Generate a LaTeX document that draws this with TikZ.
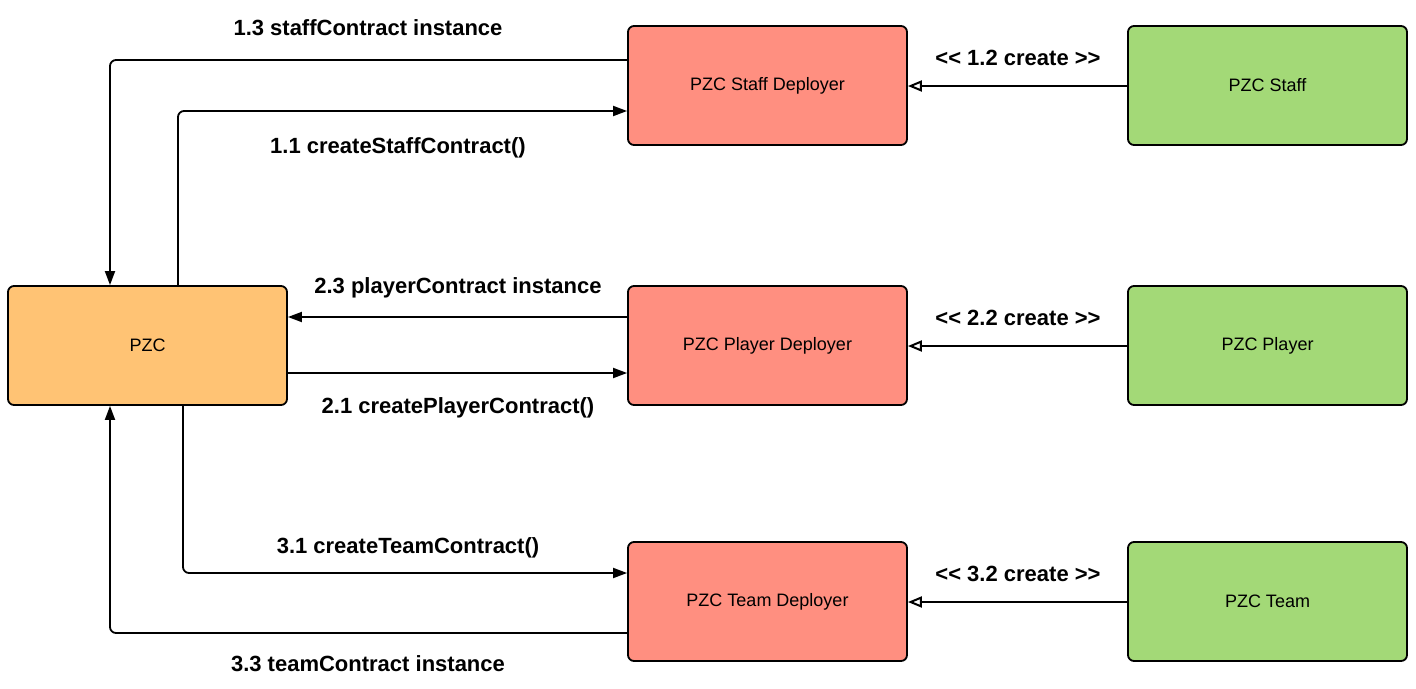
\documentclass[tikz,border=0pt]{standalone}
\usepackage{fontspec}
\setmainfont{Liberation Sans}[Ligatures=TeXOff]
\usepackage{tikz}
\usetikzlibrary{arrows.meta}
\usetikzlibrary{positioning, calc}
\definecolor{boxorange}{HTML}{FFC374}
\definecolor{boxred}{HTML}{FF8F80}
\definecolor{boxgreen}{HTML}{A3D977}

\tikzset{
    box/.style={draw, line width=1.8pt, rounded corners=6pt, minimum width=279pt,
                minimum height=119pt, inner sep=0pt, font=\fontsize{18}{20}\selectfont},
    call/.style={line width=1.8pt, rounded corners=6pt, -{Triangle[length=14pt,width=10pt]}},
    make/.style={line width=2pt, -{Triangle[open,length=14pt,width=11pt]}},
    msg/.style={font=\fontsize{22}{24}\selectfont\bfseries}
}

\begin{document}
\begin{tikzpicture}[x=1pt,y=-1pt]
            \useasboundingbox (0,0) rectangle (1416,688);

            % Boxes
            \node[box, fill=boxorange] (pzc) at (147.5,345.5) {PZC};
            \node[box, fill=boxred] (staffdep) at (767.5,85.5) {PZC Staff Deployer};
            \node[box, fill=boxred] (playerdep) at (767.5,345.5) {PZC Player Deployer};
            \node[box, fill=boxred] (teamdep) at (767.5,601.5) {PZC Team Deployer};
            \node[box, fill=boxgreen] (staff) at (1267.5,85.5) {PZC Staff};
            \node[box, fill=boxgreen] (player) at (1267.5,345.5) {PZC Player};
            \node[box, fill=boxgreen] (team) at (1267.5,601.5) {PZC Team};

            % Staff contract
            \draw[call] ([yshift=25.5pt]staffdep.west) -| ([xshift=-37.5pt]pzc.north);
            \draw[call] ([xshift=30.5pt]pzc.north) |- ([yshift=-25.5pt]staffdep.west);
            \draw[make] ([yshift=-0.5pt]staff.west) -- ([yshift=-0.5pt]staffdep.east);

            % Player contract
            \draw[call] ([yshift=28.5pt]playerdep.west) -- ([yshift=28.5pt]pzc.east);
            \draw[call] ([yshift=-27.5pt]pzc.east) -- ([yshift=-27.5pt]playerdep.west);
            \draw[make] ([yshift=-0.5pt]player.west) -- ([yshift=-0.5pt]playerdep.east);

            % Team contract
            \draw[call] ([xshift=35.5pt]pzc.south) |- ([yshift=28.5pt]teamdep.west);
            \draw[call] ([yshift=-31.5pt]teamdep.west) -| ([xshift=-37.5pt]pzc.south);
            \draw[make] ([yshift=-0.5pt]team.west) -- ([yshift=-0.5pt]teamdep.east);

            % Messages
            \node[msg] (m13) at (368,28) {1.3 staffContract instance};
            \node[msg] (m11) at (398,148) {1.1 createStaffContract()};
            \node[msg] (m12) at (1018,58) {<< 1.2 create >>};
            \node[msg] (m23) at (458,288) {2.3 playerContract instance};
            \node[msg] (m21) at (458,408) {2.1 createPlayerContract()};
            \node[msg] (m22) at (1018,318) {<< 2.2 create >>};
            \node[msg] (m31) at (408,548) {3.1 createTeamContract()};
            \node[msg] (m33) at (368,664) {3.3 teamContract instance};
            \node[msg] (m32) at (1018,574) {<< 3.2 create >>};
        \end{tikzpicture}
\end{document}
